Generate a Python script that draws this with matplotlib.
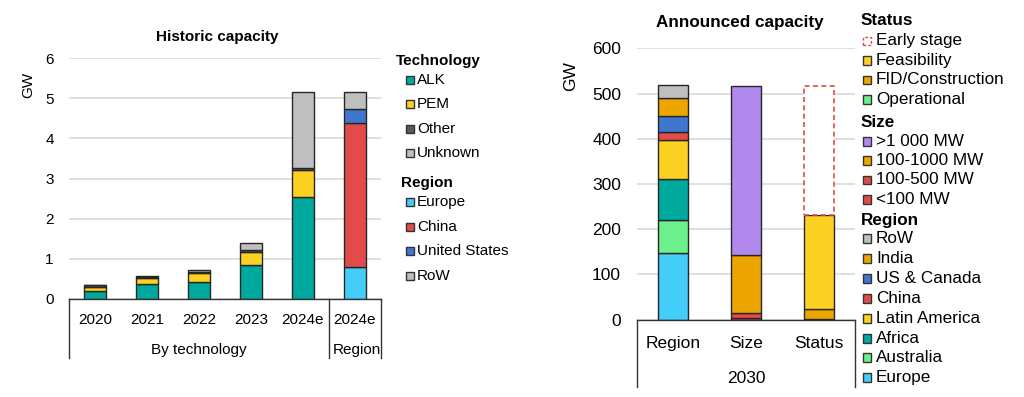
import numpy as np
import matplotlib
matplotlib.use('Agg')
import matplotlib.pyplot as plt
from matplotlib.patches import Rectangle

plt.rcParams['font.family'] = ['Liberation Sans', 'DejaVu Sans']

# --- Historic capacity (GW) ---
years = ['2020', '2021', '2022', '2023', '2024e']
alk = [0.20, 0.38, 0.42, 0.85, 2.53]
pem = [0.09, 0.15, 0.23, 0.31, 0.68]
other = [0.05, 0.01, 0.01, 0.05, 0.06]
unknown = [0.00, 0.04, 0.05, 0.19, 1.89]

region_label = '2024e'
reg_europe = 0.79
reg_china = 3.60
reg_us = 0.34
reg_row = 0.43

# --- Announced capacity 2030 (GW) ---
ann_cats = ['Region', 'Size', 'Status']
# region bar, bottom to top
ann_region_names = ['Europe', 'Australia', 'Africa', 'Latin America', 'China', 'US & Canada', 'India', 'RoW']
ann_region_vals = [147, 74, 89, 87, 17, 36, 41, 27]
# size bar, bottom to top
ann_size_names = ['<100 MW', '100-500 MW', '100-1000 MW', '>1 000 MW']
ann_size_vals = [4, 11, 127, 375]
# status bar, bottom to top
ann_status_names = ['Operational', 'FID/Construction', 'Feasibility', 'Early stage']
ann_status_vals = [1, 22, 209, 285]

C = {
    'teal': '#00a99d', 'yellow': '#fdd123', 'dgray': '#5a5a5a', 'lgray': '#bfbfbf',
    'lblue': '#45cdfa', 'red': '#e34a4a', 'blue': '#3f77d0', 'purple': '#b088ee',
    'orange': '#eda600', 'green': '#6cf08c',
}
region_cols = {'Europe': C['lblue'], 'Australia': C['green'], 'Africa': C['teal'],
               'Latin America': C['yellow'], 'China': C['red'], 'US & Canada': C['blue'],
               'India': C['orange'], 'RoW': C['lgray']}
size_cols = {'<100 MW': C['red'], '100-500 MW': C['red'], '100-1000 MW': C['orange'],
             '>1 000 MW': C['purple']}
status_cols = {'Operational': C['green'], 'FID/Construction': C['orange'],
               'Feasibility': C['yellow'], 'Early stage': 'white'}

EDGE = '#262626'
GRID = '#dcdcdc'

fig = plt.figure(figsize=(10.24, 3.97), dpi=100)


def style_axes(ax, fs, pad_y, pad_x):
    for s in ['top', 'right', 'left']:
        ax.spines[s].set_visible(False)
    ax.spines['bottom'].set_color('#333333')
    ax.spines['bottom'].set_linewidth(1.0)
    ax.yaxis.grid(True, color=GRID, linewidth=1.3)
    ax.set_axisbelow(True)
    ax.tick_params(axis='both', length=0, labelsize=fs)
    ax.tick_params(axis='y', pad=pad_y)
    ax.tick_params(axis='x', pad=pad_x)


def stack(ax, x, vals, cols, width):
    bottom = 0
    for v, c in zip(vals, cols):
        ax.bar(x, v, width, bottom=bottom, color=c, edgecolor=EDGE, linewidth=1.0, zorder=2)
        bottom += v


# ---------------- left chart ----------------
ax1 = fig.add_axes([69 / 1024, 1 - 299 / 397, 312 / 1024, 241 / 397])
style_axes(ax1, 11, 11, 10)
x = np.arange(len(years))
w1 = 0.42
for i in range(len(years)):
    stack(ax1, x[i], [alk[i], pem[i], other[i], unknown[i]],
          [C['teal'], C['yellow'], C['dgray'], C['lgray']], w1)
stack(ax1, len(years), [reg_europe, reg_china, reg_us, reg_row],
      [C['lblue'], C['red'], C['blue'], C['lgray']], w1)
ax1.set_xlim(-0.5, len(years) + 0.5)
ax1.set_ylim(0, 6)
ax1.set_yticks(range(0, 7))
ax1.set_xticks(list(x) + [len(years)])
ax1.set_xticklabels(years + [region_label])
tr = ax1.get_xaxis_transform()
for xv in [-0.5, len(years) - 0.5, len(years) + 0.5]:
    ax1.plot([xv, xv], [0, -0.245], transform=tr, color='#333333', lw=1.0, clip_on=False)
ax1.text((len(years) - 1) / 2, -0.212, 'By technology', transform=tr, ha='center', va='center', fontsize=11)
ax1.text(len(years) + 0.5, -0.212, 'Region', transform=tr, ha='right', va='center', fontsize=11)
fig.text(28 / 1024, 1 - 85 / 397, 'GW', rotation=90, ha='center', va='center', fontsize=11)
fig.text(217 / 1024, 1 - 37 / 397, 'Historic capacity', ha='center', va='center',
         fontsize=11, fontweight='bold')

# ---------------- right chart ----------------
ax2 = fig.add_axes([637 / 1024, 1 - 319.7 / 397, 218 / 1024, 271.4 / 397])
style_axes(ax2, 12.5, 11.5, 11.5)
w2 = 0.41
stack(ax2, 0, ann_region_vals, [region_cols[n] for n in ann_region_names], w2)
stack(ax2, 1, ann_size_vals, [size_cols[n] for n in ann_size_names], w2)
# status bar: last segment is dashed outline only
stack(ax2, 2, ann_status_vals[:-1], [status_cols[n] for n in ann_status_names[:-1]], w2)
ax2.bar(2, ann_status_vals[-1], w2, bottom=sum(ann_status_vals[:-1]), color='white',
        edgecolor=C['red'], linewidth=1.2, linestyle=(0, (3, 2)), zorder=2)
ax2.set_xlim(-0.5, 2.5)
ax2.set_ylim(0, 600)
ax2.set_yticks(range(0, 601, 100))
ax2.set_xticks(range(len(ann_cats)))
ax2.set_xticklabels(ann_cats)
tr2 = ax2.get_xaxis_transform()
for xv in [-0.5, 2.5]:
    ax2.plot([xv, xv], [0, -0.248], transform=tr2, color='#333333', lw=1.0, clip_on=False)
ax2.text(1, -0.215, '2030', transform=tr2, ha='center', va='center', fontsize=12.5)
fig.text(571 / 1024, 1 - 76 / 397, 'GW', rotation=90, ha='center', va='center', fontsize=12.5)
fig.text(740 / 1024, 1 - 22 / 397, 'Announced capacity', ha='center', va='center',
         fontsize=12.3, fontweight='bold')


# ---------------- legends ----------------
def legend_item(xs, xt, y, size, label, face, fs, dashed=False):
    yy = 1 - y / 397
    if dashed:
        r = Rectangle((xs / 1024, yy - size / 2 / 397), size / 1024, size / 397,
                      transform=fig.transFigure, facecolor='white', edgecolor=C['red'],
                      linewidth=1.0, linestyle=(0, (2, 1.5)))
    else:
        r = Rectangle((xs / 1024, yy - size / 2 / 397), size / 1024, size / 397,
                      transform=fig.transFigure, facecolor=face, edgecolor='#333333', linewidth=1.0)
    fig.patches.append(r)
    fig.text(xt / 1024, yy, label, ha='left', va='center', fontsize=fs)


def header(x0, y, label, fs):
    fig.text(x0 / 1024, 1 - y / 397, label, ha='left', va='center', fontsize=fs, fontweight='bold')


header(396, 61, 'Technology', 11)
tech_leg = [('ALK', C['teal']), ('PEM', C['yellow']), ('Other', C['dgray']), ('Unknown', C['lgray'])]
for (lab, col), yv in zip(tech_leg, [80, 104.3, 128.7, 153.3]):
    legend_item(405.5, 417, yv, 8, lab, col, 11)
header(400.5, 182.7, 'Region', 11)
reg_leg = [('Europe', C['lblue']), ('China', C['red']), ('United States', C['blue']), ('RoW', C['lgray'])]
for (lab, col), yv in zip(reg_leg, [202.3, 227, 251, 275.7]):
    legend_item(405.5, 417, yv, 8, lab, col, 11)

fs_r = 12.3
header(861, 20.7, 'Status', fs_r)
status_leg = ['Early stage', 'Feasibility', 'FID/Construction', 'Operational']
for lab, yv in zip(status_leg, [41, 60.3, 80, 99.3]):
    legend_item(862.5, 876, yv, 8.5, lab, status_cols[lab], fs_r, dashed=(lab == 'Early stage'))
header(861, 122.3, 'Size', fs_r)
for lab, yv in zip(ann_size_names[::-1], [141.7, 160.7, 180, 199.3]):
    legend_item(862.5, 876, yv, 8.5, lab, size_cols[lab], fs_r)
header(861, 220, 'Region', fs_r)
reg_y = [238.7, 258.7, 278.3, 298.3, 318.3, 338.3, 357.7, 377.7]
for lab, yv in zip(ann_region_names[::-1], reg_y):
    legend_item(862.5, 876, yv, 8.5, lab, region_cols[lab], fs_r)

fig.savefig('out.png', dpi=100)
